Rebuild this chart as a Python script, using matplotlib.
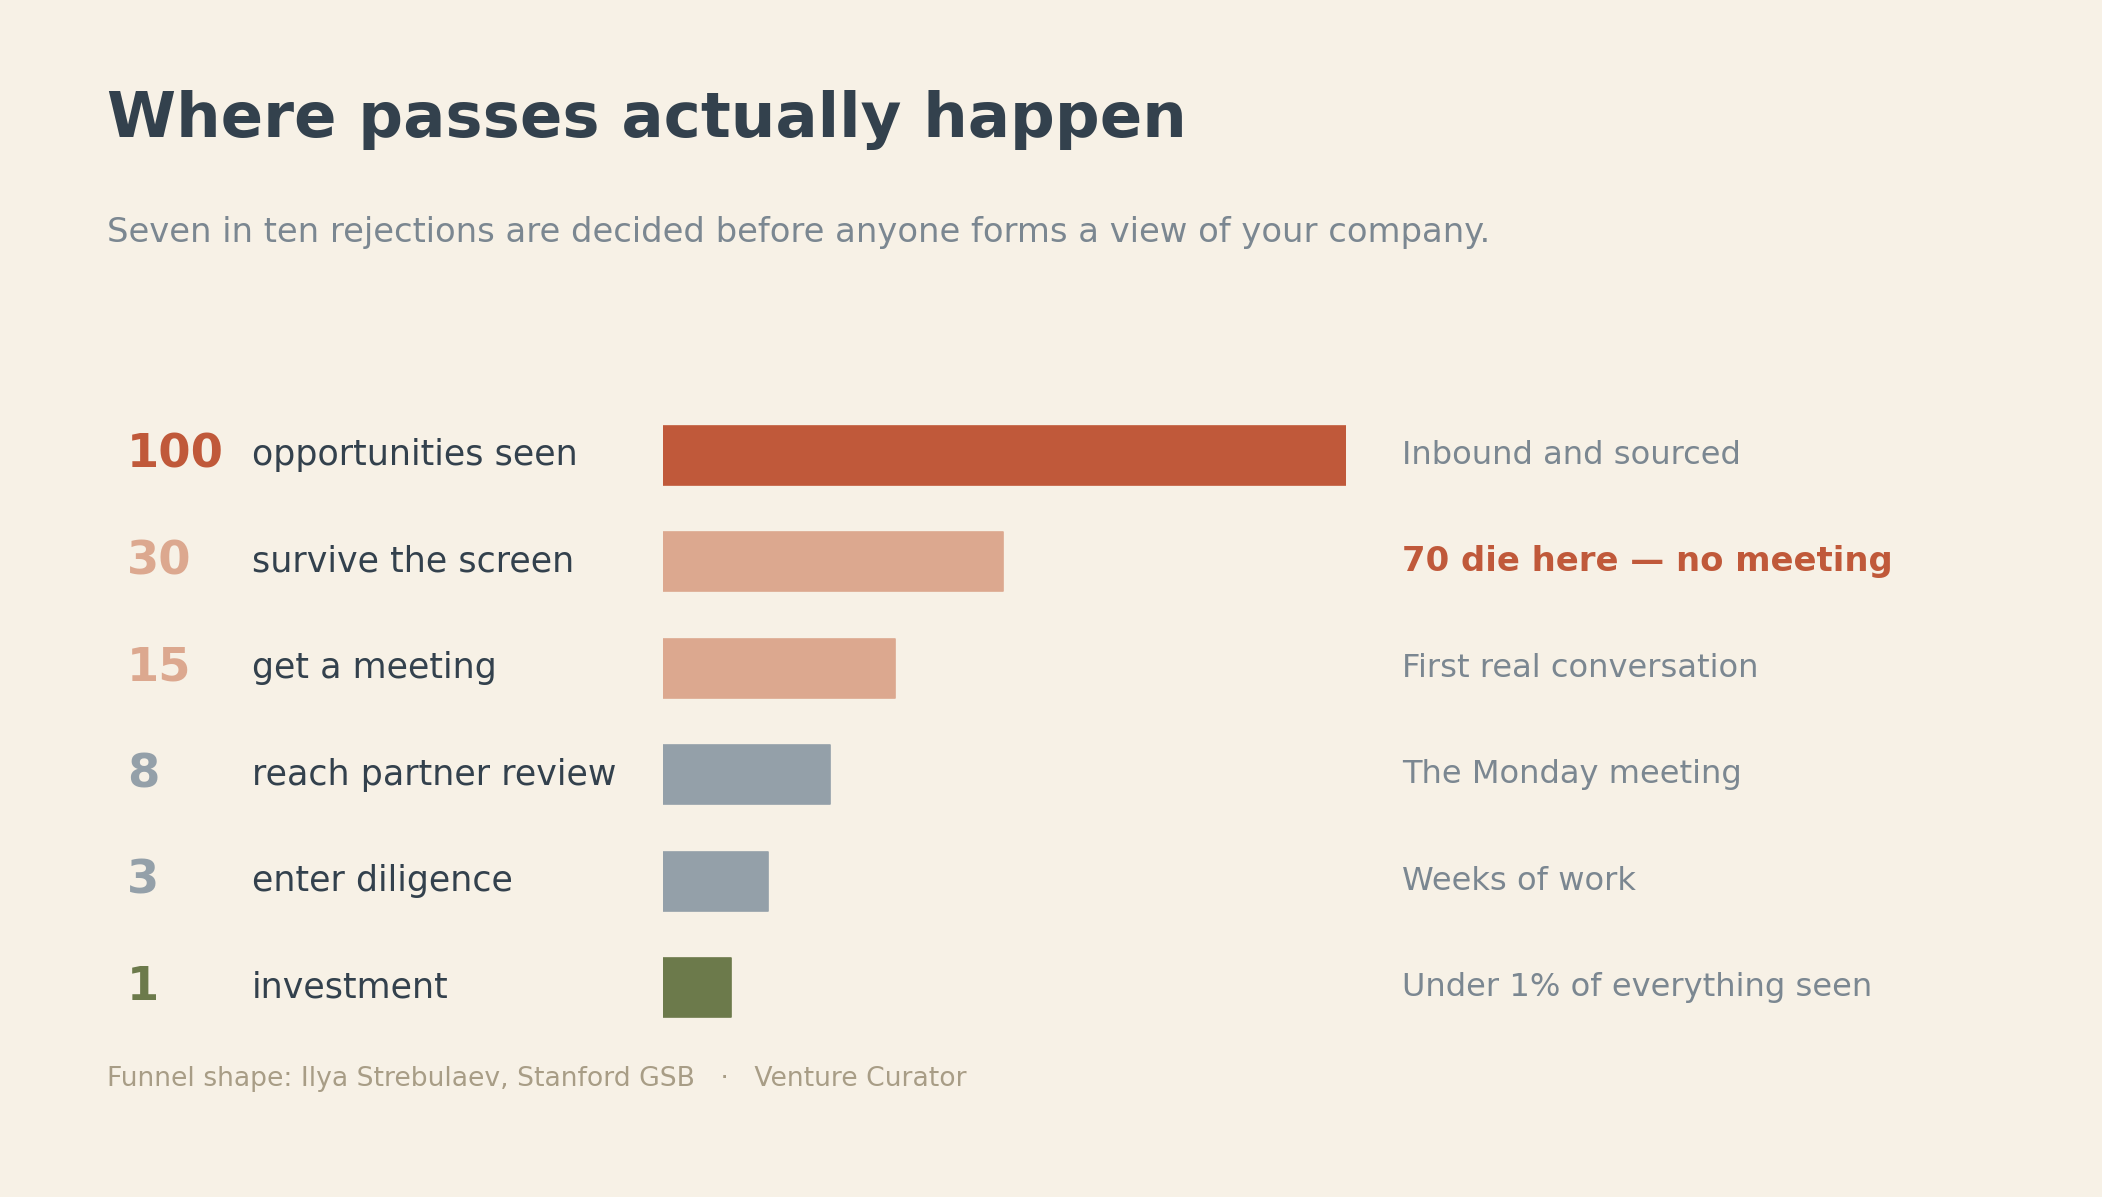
import numpy as np
import matplotlib
matplotlib.use("Agg")
import matplotlib.pyplot as plt
from matplotlib import transforms

# ---- data ----
counts = [100, 30, 15, 8, 3, 1]
count_labels = ["100", "30", "15", "8", "3", "1"]
stages = ["opportunities seen", "survive the screen", "get a meeting",
          "reach partner review", "enter diligence", "investment"]
notes = ["Inbound and sourced", "70 die here \u2014 no meeting", "First real conversation",
         "The Monday meeting", "Weeks of work", "Under 1% of everything seen"]
highlight_note = [False, True, False, False, False, False]

title = "Where passes actually happen"
subtitle = "Seven in ten rejections are decided before anyone forms a view of your company."
footer = "Funnel shape: Ilya Strebulaev, Stanford GSB   \u00b7   Venture Curator"

# ---- styles ----
BG = "#f7f1e6"
DARK = "#33414d"
GREY_TXT = "#7b8791"
ORANGE = "#c0593a"
PINK = "#dca88f"
SLATE = "#94a0a9"
GREEN = "#6c7a4b"
FOOT = "#a89d86"
bar_colors = [ORANGE, PINK, PINK, SLATE, SLATE, GREEN]

W, H = 2102, 1197
DPI = 100
fig = plt.figure(figsize=(W / DPI, H / DPI), dpi=DPI, facecolor=BG)
plt.rcParams['font.family'] = ['DejaVu Sans']

def fx(px):
    return px / W

def fy(py):
    return 1 - py / H

# bar axes
row_h = 106.4
top_row = 455.5
n = len(counts)
ax_top = top_row - row_h / 2
ax_h = row_h * n
ax_left, ax_right = 663, 1346
ax = fig.add_axes([fx(ax_left), (H - (ax_top + ax_h)) / H, (ax_right - ax_left) / W, ax_h / H])
ax.set_facecolor("none")

P = 0.62
def fwd(x):
    x = np.asarray(x, dtype=float)
    return np.sign(x) * np.abs(x) ** P
def inv(y):
    y = np.asarray(y, dtype=float)
    return np.sign(y) * np.abs(y) ** (1 / P)
ax.set_xscale('function', functions=(fwd, inv))

stub = 0.716
ypos = np.arange(n)
for i in range(n):
    ax.barh(ypos[i], counts[i] + stub, left=-stub, height=0.555, color=bar_colors[i],
            edgecolor=bar_colors[i], linewidth=1.2, joinstyle='round')
ax.set_xlim(-stub, max(counts))
ax.set_ylim(n - 0.5, -0.5)
ax.axis('off')

trans = transforms.blended_transform_factory(fig.transFigure, ax.transData)
for i in range(n):
    ax.text(fx(127), ypos[i], count_labels[i], transform=trans, ha='left', va='center',
            fontsize=33.4, fontweight='bold', color=bar_colors[i])
    ax.text(fx(252), ypos[i], stages[i], transform=trans, ha='left', va='center',
            fontsize=25.1, color=DARK)
    if highlight_note[i]:
        ax.text(fx(1402), ypos[i], notes[i], transform=trans, ha='left', va='center',
                fontsize=24.4, fontweight='bold', color=ORANGE)
    else:
        ax.text(fx(1402), ypos[i], notes[i], transform=trans, ha='left', va='center',
                fontsize=23.1, color=GREY_TXT)

fig.text(fx(107), fy(137), title, ha='left', va='baseline', fontsize=45.1,
         fontweight='bold', color=DARK)
fig.text(fx(107), fy(242), subtitle, ha='left', va='baseline', fontsize=24.35, color=GREY_TXT)
fig.text(fx(107), fy(1086), footer, ha='left', va='baseline', fontsize=19.15, color=FOOT)

fig.savefig("out.png", dpi=DPI, facecolor=BG)
